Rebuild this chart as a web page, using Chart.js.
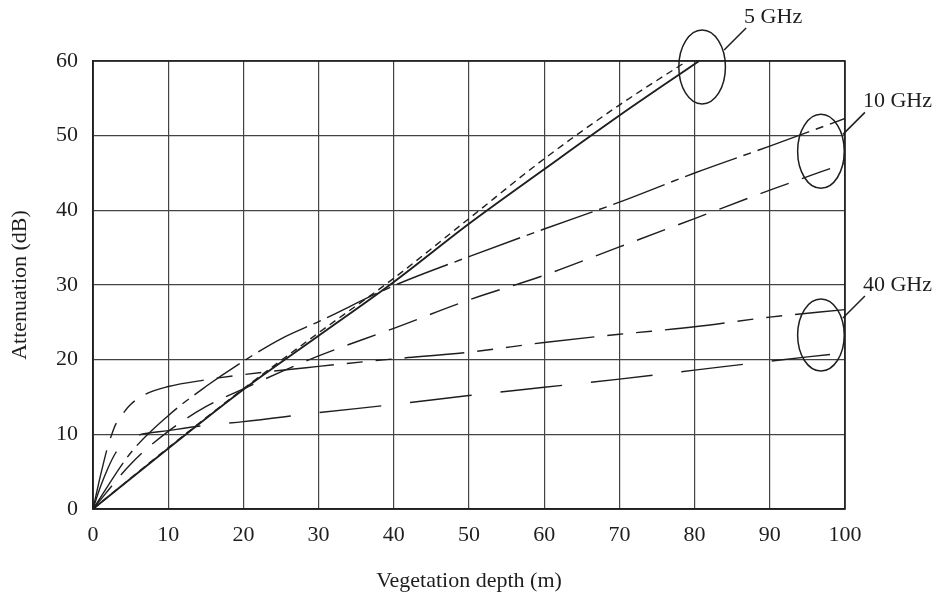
<!DOCTYPE html>
<html>
<head>
<meta charset="utf-8">
<script src="https://cdn.jsdelivr.net/npm/chart.js@4/dist/chart.umd.min.js"></script>
<style>
  html, body { margin: 0; padding: 0; background: #fff; }
  #wrap { width: 941px; height: 597px; }
</style>
</head>
<body>
<div id="wrap"><canvas id="chart" width="941" height="597"></canvas></div>
<script>
// tick values
const xTicks = [0, 10, 20, 30, 40, 50, 60, 70, 80, 90, 100];
const yTicks = [0, 10, 20, 30, 40, 50, 60];

// 5 GHz
const solid5X = [0, 10, 20, 30, 40, 50, 60, 70, 80.6];
const solid5Y = [0, 8.1, 16, 23.2, 30.4, 38.2, 45.5, 52.7, 60];
const dash5X = [0, 10, 20, 30, 40, 50, 60, 70, 79];
const dash5Y = [0, 8.2, 16.1, 23.6, 30.9, 38.9, 46.9, 54.1, 60];

// 10 GHz
const up10X = [0, 5, 10, 15, 20, 25, 30, 40, 50, 60, 70, 80, 90, 100];
const up10Y = [0, 7.5, 12.5, 16.4, 19.8, 22.8, 25.1, 29.9, 33.8, 37.5, 41.1, 45, 48.6, 52.3];
const low10X = [0, 5, 10, 15, 20, 30, 40, 50, 60, 70, 80, 90, 100];
const low10Y = [0, 6, 10.4, 13.7, 16.1, 20.5, 24.2, 28, 31.3, 35.1, 38.9, 42.7, 46.3];

// 40 GHz
const up40X = [0, 1, 2, 2.5, 3, 4, 5, 7, 10, 15, 20, 30, 40, 50, 60, 70, 80, 90, 100];
const up40Y = [0, 4.5, 8.5, 10, 11.3, 12.8, 14, 15.4, 16.4, 17.3, 18, 19.1, 20.1, 21, 22.3, 23.4, 24.4, 25.7, 26.7];
const low40X = [0, 1, 2, 3, 4, 5, 6, 10, 15, 20, 30, 40, 50, 60, 70, 80, 90, 98];
const low40Y = [0, 3, 5.5, 7.5, 8.8, 9.5, 9.9, 10.5, 11.2, 11.7, 12.9, 14, 15.2, 16.3, 17.4, 18.6, 19.8, 20.7];

// group labels
const groupLabels = ['5 GHz', '10 GHz', '40 GHz'];
const groupCenterX = [81, 96.8, 96.8];
const groupCenterY = [59.2, 47.9, 23.3];

const FONT = '"Liberation Serif", "Times New Roman", serif';
const INK = '#1e1e1e';

function pts(xs, ys) {
    return xs.map((x, i) => ({ x: x, y: ys[i] }));
}

function series(xs, ys, dash, width) {
    return {
        data: pts(xs, ys),
        borderColor: INK,
        borderWidth: width || 1.4,
        borderDash: dash,
        pointRadius: 0,
        fill: false,
        cubicInterpolationMode: 'monotone',
        showLine: true
    };
}

// ellipses + leader lines + labels
const groupMarks = {
    id: 'groupMarks',
    afterDatasetsDraw(chart) {
        const { ctx, scales: { x, y } } = chart;
        ctx.save();
        ctx.strokeStyle = INK;
        ctx.fillStyle = INK;
        ctx.lineWidth = 1.5;
        ctx.font = '22px ' + FONT;
        ctx.textBaseline = 'alphabetic';
        groupLabels.forEach((label, i) => {
            const cx = x.getPixelForValue(groupCenterX[i]);
            const cy = y.getPixelForValue(groupCenterY[i]);
            const rx = 23.3, ry = i === 2 ? 36 : 37;
            ctx.beginPath();
            ctx.ellipse(cx, cy, rx, ry, 0, 0, Math.PI * 2);
            ctx.stroke();
            // leader from upper-right of the ellipse
            const sx = cx + 22;
            const sy = cy - 17;
            const ex = sx + 22;
            const ey = sy - 22;
            ctx.beginPath();
            ctx.moveTo(sx, sy);
            ctx.lineTo(ex, ey);
            ctx.stroke();
            ctx.fillText(label, ex - 2, ey - 5);
        });
        ctx.restore();
    }
};

new Chart(document.getElementById('chart'), {
    type: 'scatter',
    data: {
        datasets: [
            series(solid5X, solid5Y, [], 1.9),
            series(dash5X, dash5Y, [7, 5]),
            series(up10X, up10Y, [55, 7, 8, 7]),
            series(low10X, low10Y, [30, 14]),
            series(up40X, up40Y, [60, 13, 16, 13, 16, 13]),
            series(low40X, low40Y, [62, 29])
        ]
    },
    options: {
        responsive: false,
        animation: false,
        layout: { padding: { top: 61, right: 96, left: 0, bottom: 0 } },
        plugins: {
            legend: { display: false },
            tooltip: { enabled: false }
        },
        scales: {
            x: {
                type: 'linear',
                min: 0,
                max: 100,
                afterFit(scale) { scale.height = 88; },
                afterBuildTicks(scale) { scale.ticks = xTicks.map(v => ({ value: v })); },
                grid: { color: '#444', lineWidth: 1.2, drawTicks: false },
                border: { color: INK, width: 1.5 },
                ticks: { color: INK, padding: 13, font: { family: FONT, size: 22 } },
                title: {
                    display: true,
                    text: 'Vegetation depth (m)',
                    color: INK,
                    font: { family: FONT, size: 22 },
                    padding: { top: 0, bottom: 3 }
                }
            },
            y: {
                type: 'linear',
                min: 0,
                max: 60,
                afterFit(scale) { scale.width = 93; },
                afterBuildTicks(scale) { scale.ticks = yTicks.map(v => ({ value: v })); },
                grid: { color: '#444', lineWidth: 1.2, drawTicks: false },
                border: { color: INK, width: 1.5 },
                ticks: { color: INK, padding: 15, font: { family: FONT, size: 22 } },
                title: {
                    display: true,
                    text: 'Attenuation (dB)',
                    color: INK,
                    font: { family: FONT, size: 22 },
                    padding: { top: 7, bottom: 0 }
                }
            }
        }
    },
    plugins: [groupMarks, {
        id: 'frame',
        afterDraw(chart) {
            const { ctx, chartArea: a } = chart;
            ctx.save();
            ctx.strokeStyle = INK;
            ctx.lineWidth = 1.6;
            ctx.strokeRect(a.left, a.top, a.right - a.left, a.bottom - a.top);
            ctx.restore();
        }
    }]
});
</script>
</body>
</html>
